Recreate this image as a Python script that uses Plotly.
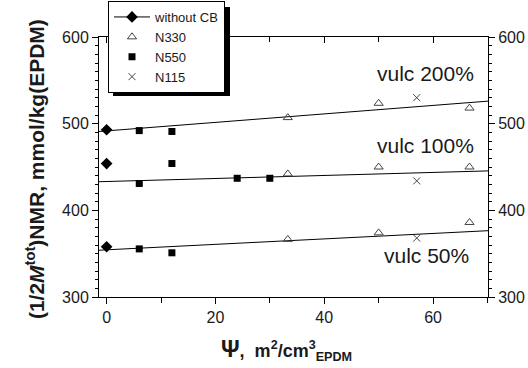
import plotly.graph_objects as go

# ---- data ----
psi_none = [0, 0, 0]
val_none = [493, 454, 358]

psi_n330 = [33.3, 50, 66.7, 33.3, 50, 66.7, 33.3, 50, 66.7]
val_n330 = [507, 523.5, 518, 442, 450, 450, 366.5, 374, 386]

psi_n550 = [6, 12, 6, 12, 24, 30, 6, 12]
val_n550 = [492, 491, 431, 454, 437, 437, 355.5, 351]

psi_n115 = [57, 57, 57]
val_n115 = [530, 434, 368]

fit_x = [-1.4, 70.1]
fit_200 = [491, 526]
fit_100 = [433, 445.5]
fit_50 = [354, 376.5]

labels = ["vulc 200%", "vulc 100%", "vulc 50%"]
label_x = [67.9, 67.9, 67.0]
label_y = [558, 475, 348]

XR = [-1.4, 70.1]
YR = [300, 600]

FONT = "Liberation Sans, Arial, sans-serif"
INK = "#1a1a1a"

fig = go.Figure()

for fy in (fit_200, fit_100, fit_50):
    fig.add_trace(go.Scatter(x=fit_x, y=fy, mode="lines",
                             line=dict(color="black", width=1),
                             showlegend=False, hoverinfo="skip"))

# without CB: isolated points so no connecting line, legend shows line+marker
xs, ys = [], []
for a, b in zip(psi_none, val_none):
    xs += [a, None]
    ys += [b, None]
fig.add_trace(go.Scatter(x=xs, y=ys, mode="lines+markers", name="without CB",
                         connectgaps=False,
                         line=dict(color="black", width=1),
                         marker=dict(symbol="diamond", size=9, color="black")))
fig.add_trace(go.Scatter(x=psi_n330, y=val_n330, mode="markers", name="N330",
                         marker=dict(symbol="triangle-up-open", size=8,
                                     color="#444", line=dict(width=1))))
fig.add_trace(go.Scatter(x=psi_n550, y=val_n550, mode="markers", name="N550",
                         marker=dict(symbol="square", size=7, color="black")))
fig.add_trace(go.Scatter(x=psi_n115, y=val_n115, mode="markers", name="N115",
                         marker=dict(symbol="x-thin-open", size=7,
                                     color="#444", line=dict(width=1))))
# invisible trace to activate mirror axes
fig.add_trace(go.Scatter(x=[0], y=[300], xaxis="x2", yaxis="y2", mode="markers",
                         marker=dict(opacity=0), showlegend=False, hoverinfo="skip"))

for t, x, y in zip(labels, label_x, label_y):
    fig.add_annotation(x=x, y=y, text=t, showarrow=False, xanchor="right",
                       yanchor="middle", font=dict(family=FONT, size=21, color=INK))

# axis titles
fig.add_annotation(xref="paper", yref="paper", x=-0.203, y=0.492,
                   text="<b>(1/2<i>M</i><sup>tot</sup>)NMR, mmol/kg(EPDM)</b>",
                   textangle=-90, showarrow=False,
                   font=dict(family=FONT, size=21, color=INK))
fig.add_annotation(xref="paper", yref="paper", x=0.482, y=-0.205,
                   text="<b><span style='font-size:23px'>Ψ</span>,  m<sup>2</sup>/cm<sup>3</sup><sub>EPDM</sub></b>",
                   showarrow=False, yanchor="middle",
                   font=dict(family=FONT, size=18, color=INK))

# legend shadow
L, R, T, B = 99, 488, 37, 297
def px(xp): return (xp - L) / (R - L)
def py(yp): return (B - yp) / (B - T)
fig.add_shape(type="rect", xref="paper", yref="paper",
              x0=px(113), x1=px(230), y0=py(96), y1=py(7),
              fillcolor="black", line=dict(width=0), layer="above")

tickfont = dict(family=FONT, size=16, color=INK)
axcommon = dict(showline=True, linecolor="black", linewidth=1, showgrid=False,
                zeroline=False, ticklen=6, tickcolor="black", tickwidth=1)

fig.update_layout(
    width=528, height=368,
    margin=dict(l=L, r=528 - R, t=T, b=368 - B, pad=0, autoexpand=False),
    paper_bgcolor="white", plot_bgcolor="white",
    font=dict(family=FONT, color=INK),
    showlegend=True,
    legend=dict(x=px(108), y=py(1), xanchor="left", yanchor="top",
                bgcolor="white", bordercolor="black", borderwidth=1,
                font=dict(family=FONT, size=13, color=INK),
                tracegroupgap=0, itemwidth=36),
    xaxis=dict(range=XR, tickvals=[0, 20, 40, 60], ticks="outside",
               tickfont=tickfont,
               minor=dict(tickvals=[10, 30, 50, 70], ticks="outside", ticklen=5,
                          tickcolor="black"),
               **axcommon),
    yaxis=dict(range=YR, tickvals=[300, 400, 500, 600], ticks="outside",
               tickfont=tickfont,
               minor=dict(dtick=10, ticks="outside", ticklen=3, tickcolor="black"),
               **axcommon),
    xaxis2=dict(range=XR, overlaying="x", side="top", tickvals=[0, 20, 40, 60],
                ticks="inside", showticklabels=False,
                minor=dict(tickvals=[10, 30, 50, 70], ticks="inside", ticklen=5,
                           tickcolor="black"),
                **axcommon),
    yaxis2=dict(range=YR, overlaying="y", side="right",
                tickvals=[300, 400, 500, 600], ticks="outside", tickfont=tickfont,
                minor=dict(dtick=10, ticks="outside", ticklen=3, tickcolor="black"),
                **axcommon),
)

fig.write_html("out.html", config={"displayModeBar": False},
               post_script="document.body.style.margin='0';document.body.style.overflow='hidden';")
